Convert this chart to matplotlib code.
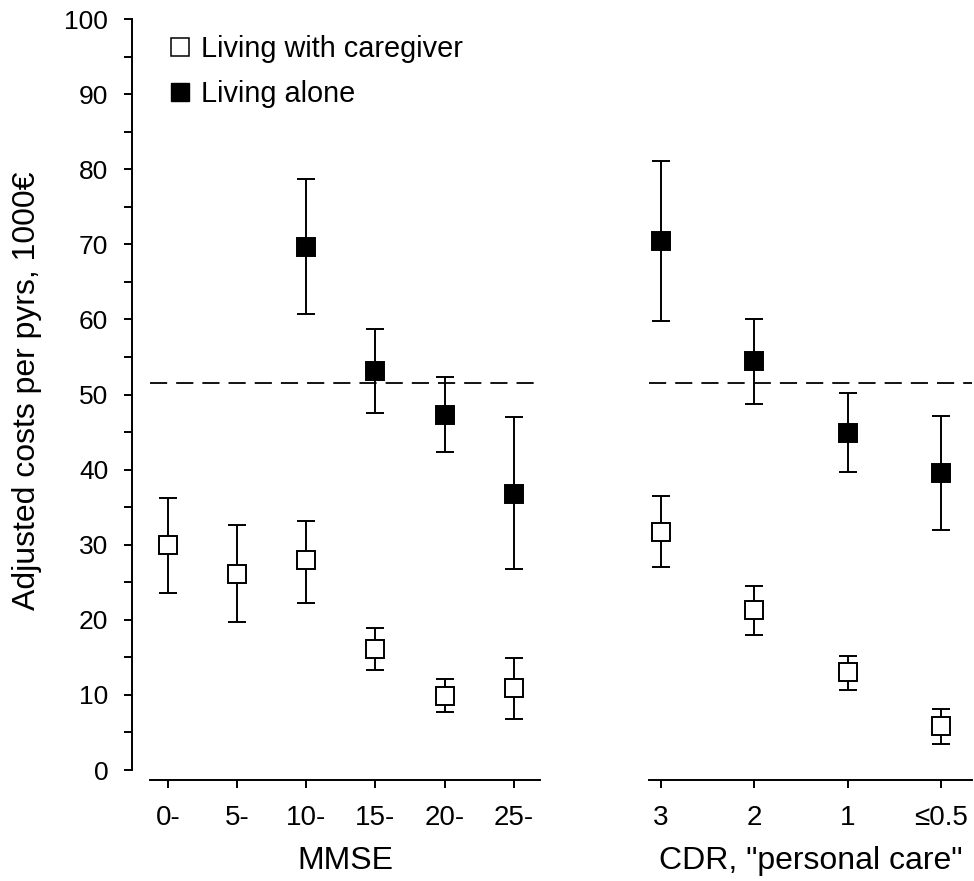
import matplotlib
matplotlib.use("Agg")
import matplotlib.pyplot as plt
import numpy as np

plt.rcParams["font.family"] = ["Liberation Sans", "DejaVu Sans"]

# --- data -------------------------------------------------------------- #
mmse_labels = ["0-", "5-", "10-", "15-", "20-", "25-"]
mmse_care = [29.9, 26.1, 27.9, 16.1, 9.9, 10.9]
mmse_care_lo = [23.6, 19.7, 22.3, 13.3, 7.7, 6.8]
mmse_care_hi = [36.2, 32.6, 33.2, 18.9, 12.1, 14.9]
mmse_alone_idx = [2, 3, 4, 5]
mmse_alone = [69.7, 53.1, 47.3, 36.8]
mmse_alone_lo = [60.7, 47.6, 42.3, 26.7]
mmse_alone_hi = [78.7, 58.7, 52.3, 47.0]

cdr_labels = ["3", "2", "1", "\u22640.5"]
cdr_care = [31.7, 21.3, 13.0, 5.8]
cdr_care_lo = [27.0, 18.0, 10.7, 3.5]
cdr_care_hi = [36.5, 24.5, 15.2, 8.1]
cdr_alone = [70.4, 54.5, 44.9, 39.6]
cdr_alone_lo = [59.8, 48.7, 39.7, 32.0]
cdr_alone_hi = [81.1, 60.1, 50.2, 47.1]

reference_cost = 51.5

TICK_FS = 19
XTICK_FS = 20
LAB_FS = 23
LEG_FS = 20.8
W, H = 974, 881
fig = plt.figure(figsize=(W / 100, H / 100), dpi=100)


def px_axes(x0, x1, y0, y1):
    return fig.add_axes([x0 / W, 1 - y1 / H, (x1 - x0) / W, (y1 - y0) / H])


ax1 = px_axes(150, 540, 19, 770)
ax2 = px_axes(649, 972, 19, 770)


def draw(ax, x, y, lo, hi, filled):
    y = np.asarray(y)
    err = [y - np.asarray(lo), np.asarray(hi) - y]
    ax.errorbar(x, y, yerr=err, fmt="s", ms=13.3 if filled else 12.6,
                mfc="black" if filled else "white", mec="black", mew=1.4,
                ecolor="black", elinewidth=1.4, capsize=6.8, capthick=1.4,
                zorder=3)


x1 = np.arange(len(mmse_labels))
draw(ax1, x1, mmse_care, mmse_care_lo, mmse_care_hi, False)
draw(ax1, np.array(mmse_alone_idx), mmse_alone, mmse_alone_lo, mmse_alone_hi, True)
x2 = np.arange(len(cdr_labels))
draw(ax2, x2, cdr_care, cdr_care_lo, cdr_care_hi, False)
draw(ax2, x2, cdr_alone, cdr_alone_lo, cdr_alone_hi, True)

for ax in (ax1, ax2):
    ax.axhline(reference_cost, color="black", lw=1.3, dashes=(9.5, 5), zorder=1)
    ax.set_ylim(0, 100)
    for s in ("top", "right"):
        ax.spines[s].set_visible(False)
    ax.spines["bottom"].set_position(("outward", 7))
    ax.spines["bottom"].set_linewidth(1.4)
    ax.tick_params(axis="x", length=6, width=1.4, labelsize=XTICK_FS, pad=12)

ax1.set_xlim(-0.26, 5.38)
ax1.set_xticks(x1, mmse_labels)
ax1.set_xlabel("MMSE", fontsize=LAB_FS, labelpad=11)
ax1.spines["left"].set_position(("outward", 13))
ax1.spines["left"].set_linewidth(1.4)
ax1.set_yticks(np.arange(0, 101, 10))
ax1.set_yticks(np.arange(5, 100, 10), minor=True)
ax1.tick_params(axis="y", which="both", length=6, width=1.4,
                labelsize=TICK_FS, pad=11)
ax1.set_ylabel("Adjusted costs per pyrs, 1000\u20ac", fontsize=LAB_FS, va="center")
ax1.yaxis.set_label_coords((27 - 150) / 390, (770 - 391) / 751)

ax2.set_xlim(-0.13, 3.33)
ax2.set_xticks(x2, cdr_labels)
ax2.set_xlabel('CDR, "personal care"', fontsize=LAB_FS, labelpad=11)
ax2.spines["left"].set_visible(False)
ax2.set_yticks([])

# legend
h_care = plt.Line2D([], [], ls="none", marker="s", ms=13.5, mfc="white",
                    mec="black", mew=1.1)
h_alone = plt.Line2D([], [], ls="none", marker="s", ms=13.5, mfc="black",
                     mec="black")
fig.legend([h_care, h_alone], ["Living with caregiver", "Living alone"],
           loc="upper left", bbox_to_anchor=(171 / W, 1 - 35 / H),
           frameon=False, fontsize=LEG_FS, handlelength=0.65,
           handletextpad=0.38, labelspacing=0.58, borderpad=0,
           borderaxespad=0)

fig.savefig("out.png", dpi=100)
